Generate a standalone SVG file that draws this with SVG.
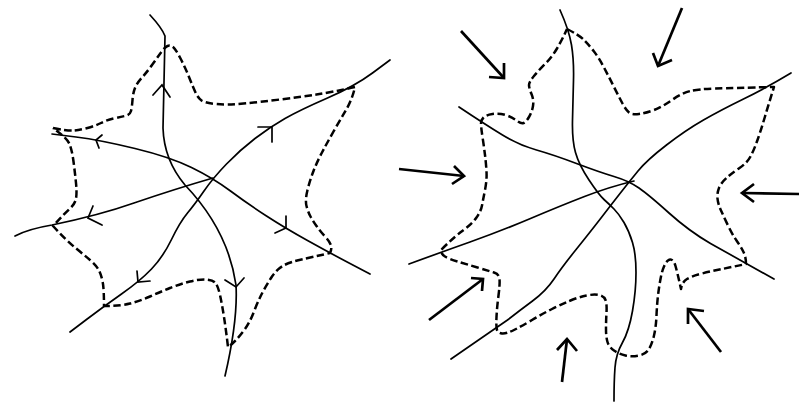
<svg xmlns="http://www.w3.org/2000/svg" width="799" height="408" viewBox="0 0 799 408">
<style>
.ln{fill:none;stroke:#000;stroke-width:1.7;stroke-linecap:round;stroke-linejoin:round}
.ds{fill:none;stroke:#000;stroke-width:2.5;stroke-dasharray:7.5 3.5;stroke-linejoin:round}
.ch{fill:none;stroke:#000;stroke-width:1.7;stroke-linecap:round;stroke-linejoin:miter}
.ar{fill:none;stroke:#000;stroke-width:2.7;stroke-linecap:butt;stroke-linejoin:miter}
</style>
<rect width="799" height="408" fill="#fff"/>
<g id="left-figure">
<g id="left-outline">
<path class="ds" d="M53,128 Q67,131 73.5,130.5 Q80,130 87.5,128 Q95,126 101,123 Q107,120 113.5,118.5 Q120,117 125,116 Q130,115 131,111 Q132,107 132.5,100 Q133,93 135,88 Q137,83 142,77.5 Q147,72 152,65 Q157,58 161,52.5 Q165,47 167.5,46 Q170,45 172.5,46.5 Q175,48 180,57.5 Q185,67 189,77 Q193,87 195.5,92.5 Q198,98 201.5,100.5 Q205,103 216,104 Q227,105 243.5,103.5 Q260,102 280,99.5 Q300,97 316.5,94.5 Q333,92 355,87 Q352,100 346,110 Q340,120 333.5,131.5 Q327,143 322,152.5 Q317,162 313.5,171 Q310,180 307.5,190 Q305,200 306.5,206 Q308,212 310.5,216.5 Q313,221 316.5,226 Q320,231 325,236.5 Q330,242 331,245.5 Q332,249 330,253 Q313,257 301.5,259.5 Q290,262 283.5,265.5 Q277,269 272,276.5 Q267,284 262.5,292.5 Q258,301 254,311.5 Q250,322 245,329 Q240,336 235,341 Q230,346 228,347 Q226,330 224,317 Q222,304 220,295 Q218,286 215.5,283 Q213,280 206.5,279.5 Q200,279 190,281.5 Q180,284 170,288 Q160,292 150,296.5 Q140,301 130,303.5 Q120,306 104,306 Q104,291 103,284 Q102,277 99.5,271.5 Q97,266 90,260 Q83,254 75,247.5 Q67,241 53,226 Q65,213 70,208.5 Q75,204 76,198.5 Q77,193 76,183 Q75,173 73.5,161.5 Q72,150 69.5,144 Q67,138 53,128"/>
</g>
<g id="left-lines">
<path class="ln" d="M150,15 Q162,28 165,36 L163,128 Q164,160 185,185 Q228,230 236,285 Q238,320 225,376"/>
<path class="ln" d="M390,60 L372.5,73 Q355,86 327.5,98 Q300,110 285,118.5 Q270,127 255,138.5 Q240,150 226.5,164 Q213,178 204,191 Q195,204 187.5,213 Q180,222 171.5,239.5 Q163,257 151.5,269 Q140,281 121.5,294 Q103,307 86.5,319.5 L70,332"/>
<path class="ln" d="M52,134 L76,137 Q100,140 135,148.5 Q170,157 191.5,167.5 Q213,178 230.5,191 Q248,204 266.5,216 Q285,228 307.5,240.5 Q330,253 350,263.5 L370,274"/>
<path class="ln" d="M15,236 Q28,229 52,225 Q100,215 134,203 Q175,189 213,178"/>
</g>
<g id="left-chevrons">
<polyline class="ch" points="153,95 162,85 170,97"/>
<polyline class="ch" points="102,135 96,140 99,148"/>
<polyline class="ch" points="258,127 272,127 272,142"/>
<polyline class="ch" points="93,206 88,218 102,225"/>
<polyline class="ch" points="286,216 286,228 275,233"/>
<polyline class="ch" points="137,271 138,282 150,281"/>
<polyline class="ch" points="225,280 236,287 244,278"/>
</g>
</g>
<g id="right-figure">
<g id="right-outline">
<path class="ds" d="M567,29 Q579,35 584,40 Q589,45 594,51.5 Q599,58 604,67.5 Q609,77 614,87 Q619,97 622.5,103.5 Q626,110 629,112.5 Q632,115 639,114 Q646,113 654,110 Q662,107 672,100 Q682,93 690.5,91 Q699,89 715.5,88.5 Q732,88 774,87 Q769,103 765,116.5 Q761,130 757.5,140 Q754,150 750.5,156.5 Q747,163 739.5,168 Q732,173 726.5,178 Q721,183 719,188 Q717,193 717.5,198.5 Q718,204 721,210.5 Q724,217 728,225.5 Q732,234 736.5,240.5 Q741,247 743.5,252 Q746,257 746,264 Q732,267 722,269 Q712,271 702,273.5 Q692,276 687,279 Q682,282 681,289 Q677,271 675.5,266 Q674,261 672,260 Q670,259 668,260.5 Q666,262 664,266.5 Q662,271 660.5,279 Q659,287 658,295.5 Q657,304 656.5,315.5 Q656,327 654,335.5 Q652,344 649,349 Q646,354 639,355.5 Q632,357 625.5,355.5 Q619,354 614,350.5 Q609,347 607.5,342 Q606,337 606,329 Q606,321 606.5,312.5 Q607,304 605.5,300 Q604,296 599,295 Q594,294 586.5,295.5 Q579,297 570.5,300.5 Q562,304 552,309 Q542,314 532,320 Q522,326 514,330 Q506,334 502,333.5 Q498,333 497,330 Q496,327 496.5,317 Q497,307 498.5,295.5 Q500,284 499.5,279 Q499,274 494,272.5 Q489,271 477.5,267.5 Q466,264 457.5,261.5 Q449,259 445,256.5 Q441,254 441,250 Q454,237 463,230.5 Q472,224 476.5,217.5 Q481,211 482,205.5 Q483,200 485,190 Q487,180 486.5,171.5 Q486,163 485,155 Q484,147 482.5,137 Q481,127 481,123.5 Q481,120 483.5,117.5 Q486,115 492.5,114 Q499,113 505.5,115 Q512,117 516.5,120.5 Q521,124 523.5,123 Q526,122 529,117 Q532,112 533,106 Q534,100 531.5,94 Q529,88 529,85 Q529,82 534,76 Q539,70 545.5,63.5 Q552,57 557,48.5 Q562,40 567,29"/>
</g>
<g id="right-lines">
<path class="ln" d="M560,10 Q569,30 571.5,45 Q574,60 573.5,80 Q573,100 572.5,120 Q572,140 575.5,152.5 Q579,165 589,180 Q599,195 604,199.5 Q609,204 614,209 Q619,214 624,222.5 Q629,231 632.5,242.5 Q636,254 636,272.5 Q636,291 632.5,311 Q629,331 622.5,342.5 Q616,354 615,367.5 Q614,381 614,401"/>
<path class="ln" d="M791,73 Q766,88 743.5,99 Q721,110 703.5,120 Q686,130 666.5,145 Q647,160 638,171 Q629,182 620,193.5 Q611,205 601,218 Q591,231 576.5,249 Q562,267 554,279 Q546,291 532.5,301 Q519,311 507.5,320 L451,359"/>
<path class="ln" d="M459,107 Q486,125 502.5,135 Q519,145 536.5,150 Q554,155 576.5,163.5 Q599,172 614,176.5 Q629,181 639,188 Q649,195 669,213 Q689,231 710.5,243.5 L774,279"/>
<path class="ln" d="M409,264 Q439,253 470,242 Q501,231 530.5,218.5 Q560,206 584.5,196.5 Q609,187 634,181"/>
</g>
</g>
<g id="arrows">
<g id="arrow-1"><line class="ar" x1="461" y1="31" x2="504" y2="78"/><polyline class="ar" points="489,77 504,78 504,63"/></g>
<g id="arrow-2"><line class="ar" x1="682" y1="8" x2="658" y2="66"/><polyline class="ar" points="653,53 658,66 672,60"/></g>
<g id="arrow-3"><line class="ar" x1="399" y1="169" x2="464" y2="176"/><polyline class="ar" points="454,166 464,176 452,184"/></g>
<g id="arrow-4"><line class="ar" x1="799" y1="194" x2="742" y2="193"/><polyline class="ar" points="754,184 742,193 754,202"/></g>
<g id="arrow-5"><line class="ar" x1="429" y1="320" x2="483" y2="279"/><polyline class="ar" points="471,278 483,279 482,291"/></g>
<g id="arrow-6"><line class="ar" x1="562" y1="382" x2="567" y2="339"/><polyline class="ar" points="557,350 567,339 577,351"/></g>
<g id="arrow-7"><line class="ar" x1="721" y1="352" x2="688" y2="309"/><polyline class="ar" points="688,324 688,309 704,311"/></g>
</g>
</svg>
